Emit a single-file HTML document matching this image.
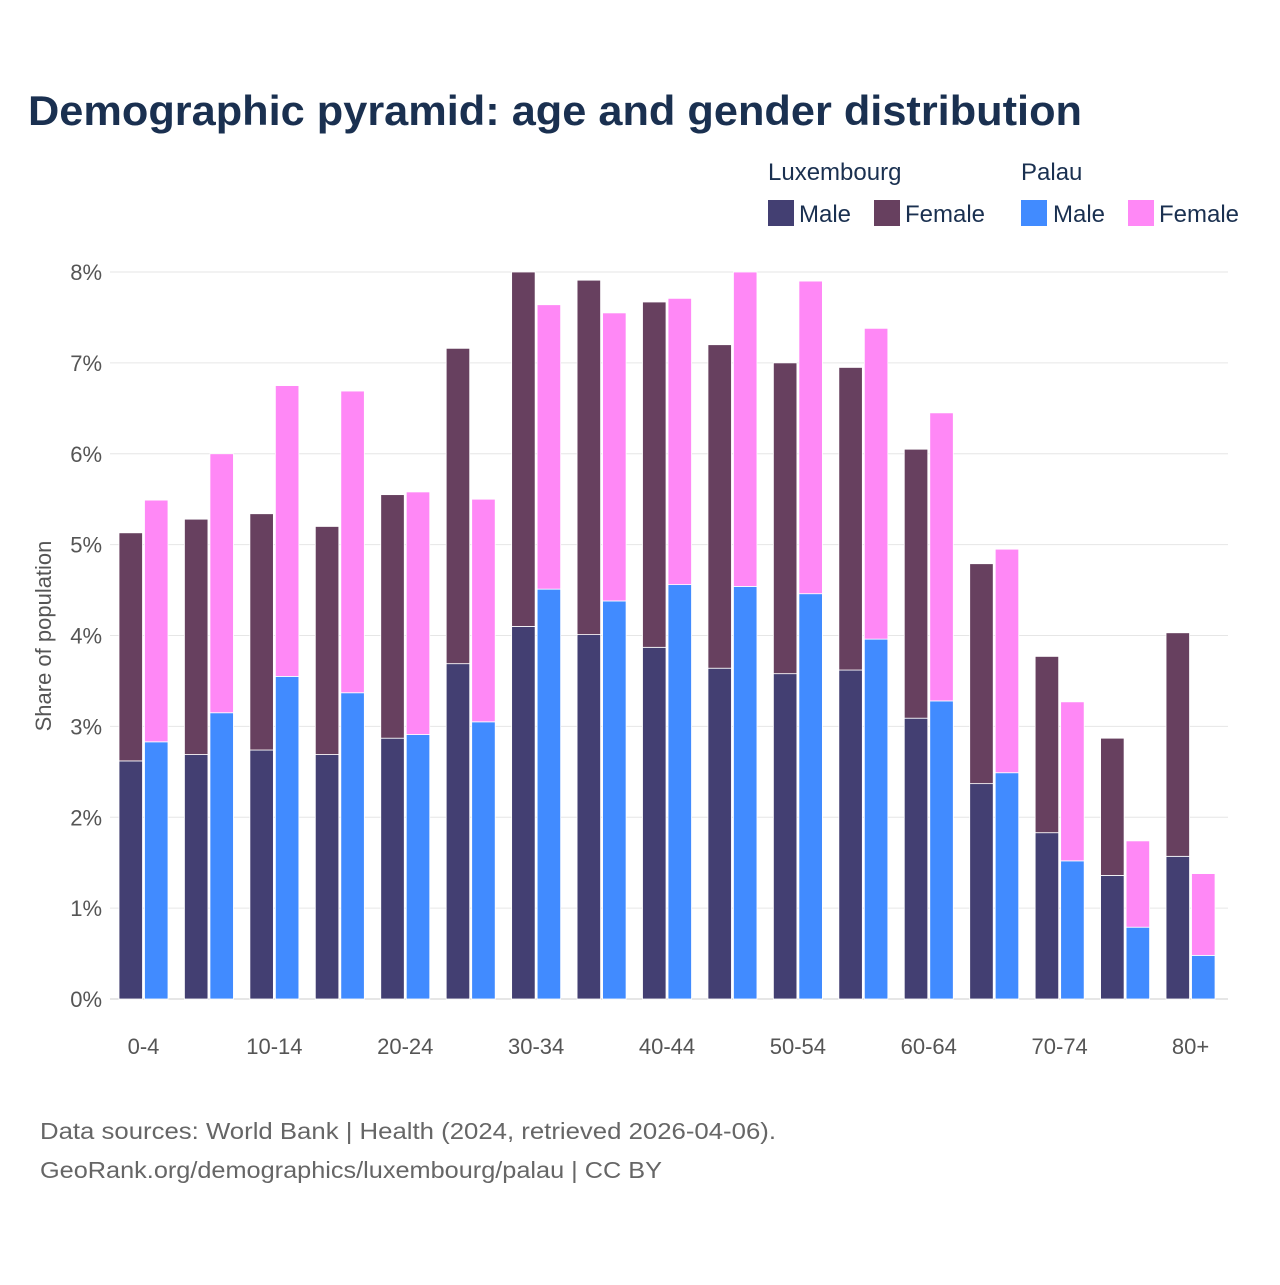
<!DOCTYPE html>
<html><head><meta charset="utf-8"><style>
body{margin:0;background:#fff;font-family:"Liberation Sans",sans-serif}
svg text{font-family:"Liberation Sans",sans-serif}
</style></head><body>
<svg id="c" width="1280" height="1280" viewBox="0 0 1280 1280">
<rect width="1280" height="1280" fill="#fff"/>
<text x="28" y="125" font-size="42" font-weight="bold" fill="#1a3050" textLength="1054" lengthAdjust="spacingAndGlyphs">Demographic pyramid: age and gender distribution</text>
<g font-size="24" fill="#1a3050">
<text x="768" y="180">Luxembourg</text>
<text x="1021" y="180">Palau</text>
<rect x="768" y="200" width="26" height="26" fill="#433f72"/>
<text x="799" y="222">Male</text>
<rect x="874" y="200" width="26" height="26" fill="#67405f"/>
<text x="905" y="222">Female</text>
<rect x="1021" y="200" width="26" height="26" fill="#418bff"/>
<text x="1053" y="222">Male</text>
<rect x="1128" y="200" width="26" height="26" fill="#ff88f6"/>
<text x="1159" y="222">Female</text>
</g>
<text transform="translate(51,636) rotate(-90)" text-anchor="middle" font-size="22" fill="#555">Share of population</text>
<g id="grid"></g><g id="bars"></g><g id="xt"></g>
<text x="40" y="1139" font-size="23" fill="#666" textLength="736" lengthAdjust="spacingAndGlyphs">Data sources: World Bank | Health (2024, retrieved 2026-04-06).</text>
<text x="40" y="1178" font-size="23" fill="#666" textLength="622" lengthAdjust="spacingAndGlyphs">GeoRank.org/demographics/luxembourg/palau | CC BY</text>
</svg>
<script>
const categories=["0-4","5-9","10-14","15-19","20-24","25-29","30-34","35-39","40-44","45-49","50-54","55-59","60-64","65-69","70-74","75-79","80+"];
const luxMale=[2.62,2.69,2.74,2.69,2.87,3.69,4.10,4.01,3.87,3.64,3.58,3.62,3.09,2.37,1.83,1.36,1.57];
const luxFemale=[2.51,2.59,2.60,2.51,2.68,3.47,3.90,3.90,3.80,3.56,3.42,3.33,2.96,2.42,1.94,1.51,2.46];
const palauMale=[2.83,3.15,3.55,3.37,2.91,3.05,4.51,4.38,4.56,4.54,4.46,3.96,3.28,2.49,1.52,0.79,0.48];
const palauFemale=[2.66,2.85,3.20,3.32,2.67,2.45,3.13,3.17,3.15,3.46,3.44,3.42,3.17,2.46,1.75,0.95,0.90];
const yTicks=[0,1,2,3,4,5,6,7,8];
const NS="http://www.w3.org/2000/svg";
const y0=999,pxPer=90.875;
const y=v=>y0-v*pxPer;
const xc=i=>143.5+i*65.44;
function mk(t,a,p){const e=document.createElementNS(NS,t);for(const k in a)e.setAttribute(k,a[k]);p.appendChild(e);return e;}
const grid=document.getElementById('grid'),bars=document.getElementById('bars'),xt=document.getElementById('xt');
yTicks.forEach(t=>{
 const l=mk('line',{x1:110,x2:1228,y1:y(t),y2:y(t),stroke:t===0?'#ccc':'#e6e6e6','stroke-width':1},grid);
 
 
 const tx=mk('text',{x:102,y:y(t)+8,'text-anchor':'end','font-size':22,fill:'#555'},grid);
 tx.textContent=t+'%';
 
 
});
function bar(x,v0,v1,fill,name){
 const r=mk('rect',{x:x,y:y(v1),width:23.5,height:y(v0)-y(v1),fill:fill,stroke:'#fff','stroke-width':0.8},bars);
 
 
}
categories.forEach((c,i)=>{
 const cx=xc(i);
 bar(cx-24.5,0,luxMale[i],'#433f72','bar-lux-male-'+c);
 bar(cx-24.5,luxMale[i],luxMale[i]+luxFemale[i],'#67405f','bar-lux-female-'+c);
 bar(cx+1,0,palauMale[i],'#418bff','bar-palau-male-'+c);
 bar(cx+1,palauMale[i],palauMale[i]+palauFemale[i],'#ff88f6','bar-palau-female-'+c);
 if(i%2===0){
  const t=mk('text',{x:cx,y:1054,'text-anchor':'middle','font-size':22,fill:'#555'},xt);
  t.textContent=c;
  
  
 }
});
</script>
</body></html>
